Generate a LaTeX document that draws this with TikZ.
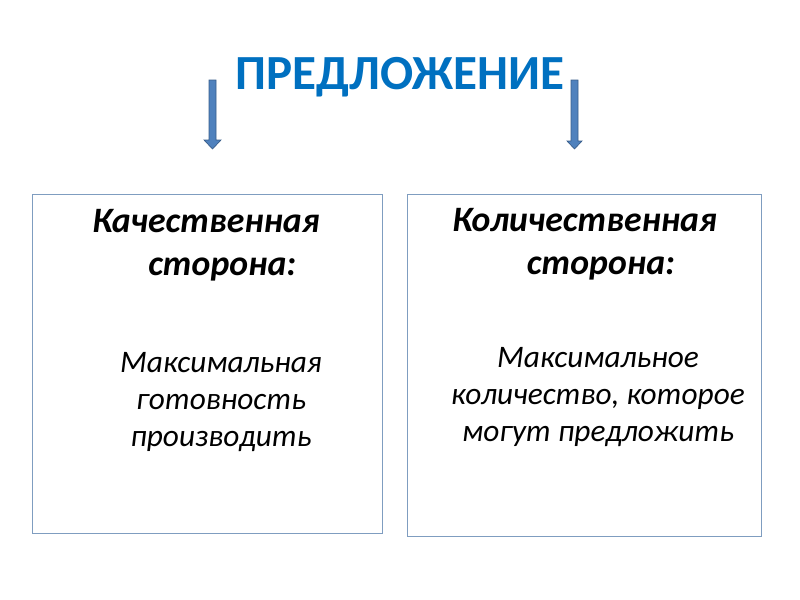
\documentclass[tikz,border=0pt]{standalone}
\usepackage{fontspec}
\setmainfont{Carlito}
\usetikzlibrary{positioning}
\definecolor{titleblue}{HTML}{0070C0}
\definecolor{arrowblue}{HTML}{4F81BD}
\definecolor{arrowedge}{HTML}{385D8A}
\definecolor{boxedge}{HTML}{7F9DC0}
\tikzset{
  sidebox/.style={draw=boxedge, line width=0.75pt, inner sep=0pt},
  headtext/.style={font=\fontsize{26.8}{32.25}\selectfont\bfseries\itshape, align=left, inner sep=0pt},
  bodytext/.style={font=\fontsize{23.5}{27.5}\selectfont\itshape, align=center, inner sep=0pt},
  blockarrow/.style={fill=arrowblue, draw=arrowedge, line width=0.5pt},
}

\begin{document}
\begin{tikzpicture}[x=0.75pt,y=-0.75pt]
    \useasboundingbox (0,0) rectangle (800,600);
    % Title
    \node[font=\fontsize{36.8}{44}\selectfont\bfseries, text=titleblue, anchor=base] (title) at (400,89) {ПРЕДЛОЖЕНИЕ};
    % Block arrows down
    \draw[blockarrow] (209,80) -- (216,80) -- (216,140) -- (221,140) -- (212.5,149) -- (204,140) -- (209,140) -- cycle;
    \draw[blockarrow] (571,80) -- (578,80) -- (578,141) -- (582,141) -- (574.5,149) -- (567,141) -- (571,141) -- cycle;
    % Boxes
    \node[sidebox, minimum width=262.5pt, minimum height=254.25pt] (qualbox) at (207,363.5) {};
    \node[sidebox, minimum width=265.5pt, minimum height=256.5pt] (quantbox) at (584,365) {};
    % Left box text
    \node[headtext, anchor=base west] (qualhead) at (92,275) {Качественная\\\hspace*{42pt}сторона:};
    \node[bodytext] (qualbody) at (221,402) {Максимальная\\готовность\\производить};
    % Right box text
    \node[headtext, anchor=base west] (quanthead) at (452,274) {Количественная\\\hspace*{56pt}сторона:};
    \node[bodytext] (quantbody) at (598,397) {Максимальное\\количество, которое\\могут предложить};
\end{tikzpicture}
\end{document}
